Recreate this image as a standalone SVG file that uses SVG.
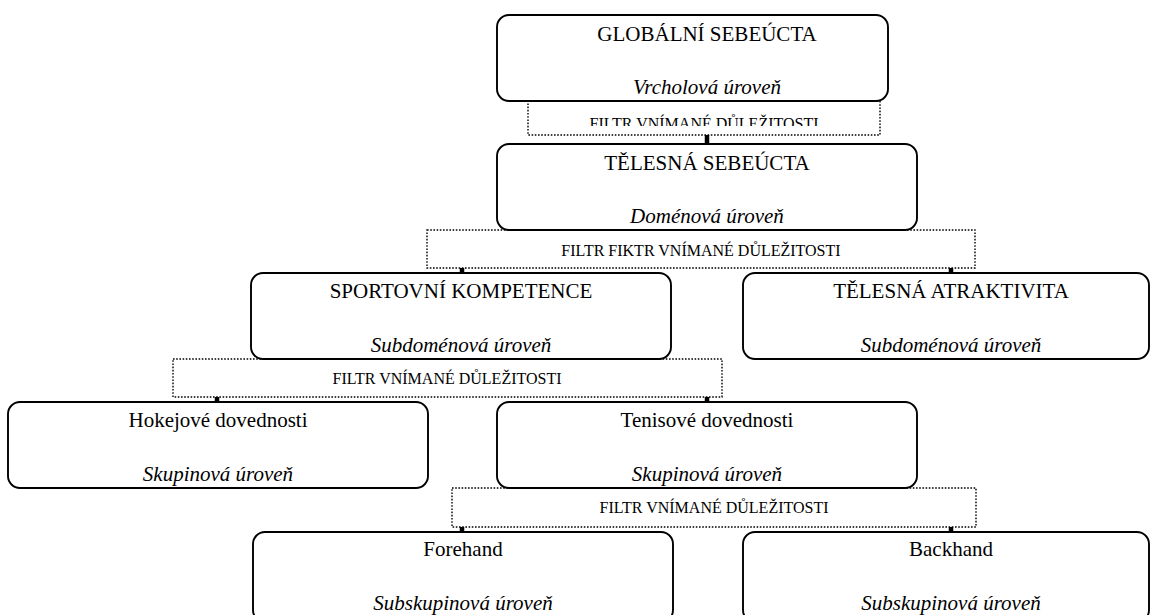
<svg xmlns="http://www.w3.org/2000/svg" width="1151" height="615" viewBox="0 0 1151 615">
<style>
.box{fill:#fff;stroke:#000;stroke-width:1.9}
.filter{fill:none;stroke:#000;stroke-width:1.4;stroke-dasharray:1.6 1.6}
.t{font-family:"Liberation Serif","Times New Roman",serif;font-size:21px;fill:#000;text-anchor:middle}
.s{font-family:"Liberation Serif","Times New Roman",serif;font-size:21px;font-style:italic;fill:#000;text-anchor:middle}
.f{font-family:"Liberation Serif","Times New Roman",serif;font-size:16px;fill:#000;text-anchor:middle}
.c{stroke:#000;stroke-width:4.5;fill:none}
</style>
<defs>
<clipPath id="clipF1"><rect x="528" y="101" width="352" height="25"/></clipPath>
</defs>
<rect x="0" y="0" width="1151" height="615" fill="#fff"/>

<g id="connectors">
<line class="c" x1="707" y1="135" x2="707" y2="144"/>
<line class="c" x1="462" y1="268" x2="462" y2="274"/>
<line class="c" x1="951" y1="268" x2="951" y2="274"/>
<line class="c" x1="217" y1="397" x2="217" y2="403"/>
<line class="c" x1="707" y1="397" x2="707" y2="403"/>
<line class="c" x1="462" y1="527" x2="462" y2="533"/>
<line class="c" x1="951" y1="527" x2="951" y2="533"/>
</g>

<g id="globalni">
<rect class="box" x="497" y="15" width="391" height="86" rx="12"/>
<text class="t" x="707" y="41">GLOBÁLNÍ SEBEÚCTA</text>
<text class="s" x="707" y="94">Vrcholová úroveň</text>
</g>

<g id="filtr1">
<rect class="filter" x="528" y="101" width="352" height="34"/>
<text class="f" x="704" y="129" clip-path="url(#clipF1)">FILTR VNÍMANÉ DŮLEŽITOSTI</text>
</g>

<g id="telesna-sebeucta">
<rect class="box" x="497" y="144" width="420" height="86" rx="12"/>
<text class="t" x="707" y="170">TĚLESNÁ SEBEÚCTA</text>
<text class="s" x="707" y="223">Doménová úroveň</text>
</g>

<g id="filtr2">
<rect class="filter" x="427" y="230" width="548" height="38"/>
<text class="f" x="701" y="256">FILTR FIKTR VNÍMANÉ DŮLEŽITOSTI</text>
</g>

<g id="sportovni">
<rect class="box" x="251" y="273" width="420" height="86" rx="12"/>
<text class="t" x="461" y="298">SPORTOVNÍ KOMPETENCE</text>
<text class="s" x="461" y="352">Subdoménová úroveň</text>
</g>

<g id="atraktivita">
<rect class="box" x="743" y="273" width="406" height="86" rx="12"/>
<text class="t" x="951" y="298">TĚLESNÁ ATRAKTIVITA</text>
<text class="s" x="951" y="352">Subdoménová úroveň</text>
</g>

<g id="filtr3">
<rect class="filter" x="173" y="359" width="549" height="38"/>
<text class="f" x="447" y="384">FILTR VNÍMANÉ DŮLEŽITOSTI</text>
</g>

<g id="hokejove">
<rect class="box" x="8" y="402" width="420" height="86" rx="12"/>
<text class="t" x="218" y="427">Hokejové dovednosti</text>
<text class="s" x="218" y="481">Skupinová úroveň</text>
</g>

<g id="tenisove">
<rect class="box" x="497" y="402" width="420" height="86" rx="12"/>
<text class="t" x="707" y="427">Tenisové dovednosti</text>
<text class="s" x="707" y="481">Skupinová úroveň</text>
</g>

<g id="filtr4">
<rect class="filter" x="452" y="488" width="524" height="39"/>
<text class="f" x="714" y="513">FILTR VNÍMANÉ DŮLEŽITOSTI</text>
</g>

<g id="forehand">
<rect class="box" x="253" y="532" width="420" height="90" rx="12"/>
<text class="t" x="463" y="556">Forehand</text>
<text class="s" x="463" y="610">Subskupinová úroveň</text>
</g>

<g id="backhand">
<rect class="box" x="743" y="532" width="406" height="90" rx="12"/>
<text class="t" x="951" y="556">Backhand</text>
<text class="s" x="951" y="610">Subskupinová úroveň</text>
</g>
</svg>
